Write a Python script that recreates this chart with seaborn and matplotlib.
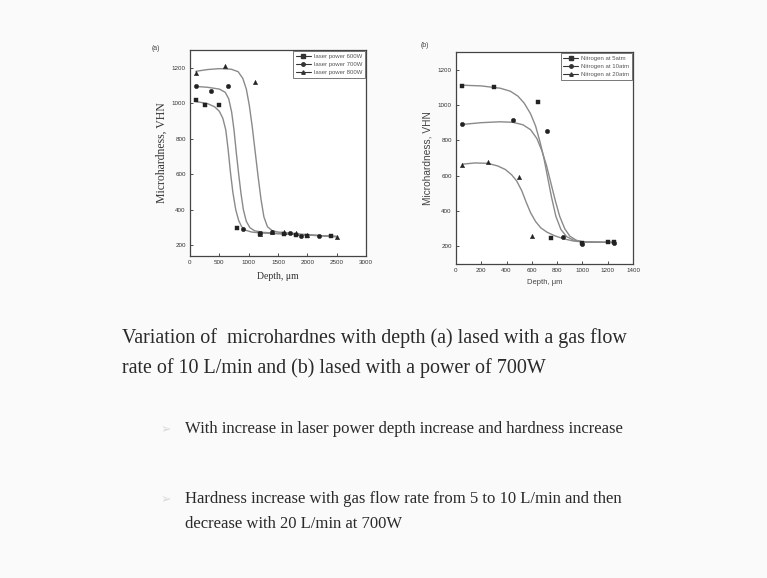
import numpy as np
import pandas as pd
import matplotlib.pyplot as plt
import seaborn as sns
from matplotlib.lines import Line2D

# ---- panel (a): laser power series, measured points ----
a_600_x = [100, 250, 500, 800, 1200, 1600, 1800, 2000, 2400]
a_600_y = [1020, 990, 990, 300, 265, 265, 260, 255, 250]
a_700_x = [100, 350, 650, 900, 1200, 1400, 1700, 1900, 2200]
a_700_y = [1100, 1070, 1100, 290, 270, 275, 270, 255, 255]
a_800_x = [100, 600, 1100, 1200, 1400, 1600, 1800, 2000, 2500]
a_800_y = [1170, 1210, 1120, 265, 275, 275, 270, 260, 245]

# fitted curves
a_600_cx = [100, 300, 420, 500, 560, 610, 650, 690, 730, 780, 830, 880, 950, 1050, 1200, 1500, 2000, 2500]
a_600_cy = [1010, 998, 980, 955, 915, 850, 740, 610, 500, 400, 340, 305, 285, 275, 270, 265, 258, 250]
a_700_cx = [100, 300, 500, 600, 660, 710, 750, 790, 830, 870, 910, 960, 1020, 1100, 1250, 1500, 2000, 2500]
a_700_cy = [1095, 1090, 1080, 1062, 1025, 950, 850, 720, 600, 490, 400, 335, 300, 282, 273, 268, 258, 250]
a_800_cx = [100, 300, 500, 700, 820, 900, 960, 1010, 1060, 1110, 1160, 1210, 1260, 1320, 1400, 1500, 2000, 2500]
a_800_cy = [1180, 1190, 1195, 1192, 1178, 1140, 1080, 990, 870, 730, 590, 460, 360, 305, 283, 275, 260, 248]
a_labels = ["laser power 600W", "laser power 700W", "laser power 800W"]

# ---- panel (b): nitrogen pressure series ----
b_5_x = [50, 300, 650, 750, 1000, 1200, 1250]
b_5_y = [1110, 1100, 1015, 250, 220, 225, 225]
b_10_x = [50, 450, 720, 850, 1000, 1250]
b_10_y = [890, 915, 855, 255, 215, 220]
b_20_x = [50, 250, 500, 600]
b_20_y = [660, 680, 590, 260]

b_5_cx = [50, 200, 350, 430, 490, 540, 590, 630, 665, 695, 725, 755, 790, 830, 875, 930, 1000, 1250]
b_5_cy = [1112, 1108, 1095, 1078, 1050, 1010, 950, 880, 790, 700, 590, 480, 370, 295, 255, 235, 225, 222]
b_10_cx = [50, 200, 350, 450, 530, 590, 640, 680, 715, 750, 785, 820, 860, 900, 950, 1000, 1250]
b_10_cy = [890, 900, 905, 902, 888, 860, 810, 740, 660, 560, 460, 370, 300, 258, 235, 225, 222]
b_20_cx = [50, 150, 250, 330, 390, 440, 480, 520, 555, 590, 630, 670, 720, 780, 850, 930, 1000, 1250]
b_20_cy = [665, 672, 670, 655, 635, 605, 570, 515, 450, 390, 340, 305, 280, 260, 243, 230, 225, 222]
b_labels = ["Nitrogen at 5atm", "Nitrogen at 10atm", "Nitrogen at 20atm"]

caption = ["Variation of  microhardnes with depth (a) lased with a gas flow",
           "rate of 10 L/min and (b) lased with a power of 700W"]
bullet_1 = ["With increase in laser power depth increase and hardness increase"]
bullet_2 = ["Hardness increase with gas flow rate from 5 to 10 L/min and then",
            "decrease with 20 L/min at 700W"]

sns.set_theme(style="ticks")
plt.rcParams['font.family'] = ['Liberation Sans', 'DejaVu Sans']

bg = '#fafafa'
curve_col = '#8a8a8a'
pt_col = '#222222'
markers = ['s', 'o', '^']

fig = plt.figure(figsize=(7.67, 5.78), dpi=100, facecolor=bg)


def draw_panel(ax, pts, curves, labels, xlim, ylim, xticks, yticks):
    ax.set_facecolor('white')
    for (cx, cy) in curves:
        sns.lineplot(x=cx, y=cy, ax=ax, color=curve_col, linewidth=1.0,
                     sort=False, estimator=None)
    for (px, py), m in zip(pts, markers):
        sns.scatterplot(x=px, y=py, ax=ax, color=pt_col, marker=m, s=10,
                        edgecolor=pt_col, linewidth=0.3, zorder=3)
    ax.set_xlim(*xlim)
    ax.set_ylim(*ylim)
    ax.set_xticks(xticks)
    ax.set_yticks(yticks)
    ax.tick_params(direction='in', length=2.5, width=0.6, labelsize=4.5,
                   colors='#333333', pad=3)
    for s in ax.spines.values():
        s.set_linewidth(0.9)
        s.set_color('#444444')
    handles = [Line2D([0], [0], color='#333333', lw=0.8, marker=m, markersize=2.5)
               for m in markers]
    leg = ax.legend(handles, labels, loc='upper right', fontsize=4.3,
                    frameon=True, fancybox=False, edgecolor='#555555',
                    handlelength=2.5, borderaxespad=0.25, labelspacing=0.5,
                    handletextpad=0.5)
    leg.get_frame().set_linewidth(0.7)
    for t in leg.get_texts():
        t.set_color('#555555')


# panel (a)
ax_a = fig.add_axes([190 / 767, (578 - 256) / 578, 176 / 767, 206 / 578])
draw_panel(ax_a,
           [(a_600_x, a_600_y), (a_700_x, a_700_y), (a_800_x, a_800_y)],
           [(a_600_cx, a_600_cy), (a_700_cx, a_700_cy), (a_800_cx, a_800_cy)],
           a_labels, (0, 3000), (140, 1300),
           [0, 500, 1000, 1500, 2000, 2500, 3000], [200, 400, 600, 800, 1000, 1200])
ax_a.set_xlabel("Depth, \u03bcm", fontsize=7, family='Liberation Serif',
                color='#333333', labelpad=5)
ax_a.set_ylabel("Microhardness, VHN", fontsize=8.5, family='Liberation Serif',
                color='#333333', labelpad=3)
fig.text(152 / 767, 1 - 50 / 578, "(a)", fontsize=5, color='#444444')

# panel (b)
ax_b = fig.add_axes([456 / 767, (578 - 264) / 578, 177 / 767, 212 / 578])
draw_panel(ax_b,
           [(b_5_x, b_5_y), (b_10_x, b_10_y), (b_20_x, b_20_y)],
           [(b_5_cx, b_5_cy), (b_10_cx, b_10_cy), (b_20_cx, b_20_cy)],
           b_labels, (0, 1400), (100, 1300),
           [0, 200, 400, 600, 800, 1000, 1200, 1400], [200, 400, 600, 800, 1000, 1200])
ax_b.set_xlabel("Depth, \u03bcm", fontsize=5.5, color='#444444', labelpad=4)
ax_b.set_ylabel("Microhardness, VHN", fontsize=7.3, color='#444444', labelpad=4)
fig.text(421 / 767, 1 - 47 / 578, "(b)", fontsize=5, color='#444444')

# slide text
serif = ['Liberation Serif', 'DejaVu Serif']
for i, line in enumerate(caption):
    fig.text(122 / 767, 1 - (343 + i * 30) / 578, line, fontsize=14.4,
             family=serif, color='#2a2a2a')

fig.text(161 / 767, 1 - 433 / 578, "\u27a2", fontsize=9, color='#d8d8d8',
         family=['DejaVu Sans'])
fig.text(185 / 767, 1 - 433 / 578, bullet_1[0], fontsize=12, family=serif,
         color='#2a2a2a')
fig.text(161 / 767, 1 - 503 / 578, "\u27a2", fontsize=9, color='#d8d8d8',
         family=['DejaVu Sans'])
for i, line in enumerate(bullet_2):
    fig.text(185 / 767, 1 - (503 + i * 25) / 578, line, fontsize=12,
             family=serif, color='#2a2a2a')

fig.savefig("out.png", dpi=100, facecolor=bg)
